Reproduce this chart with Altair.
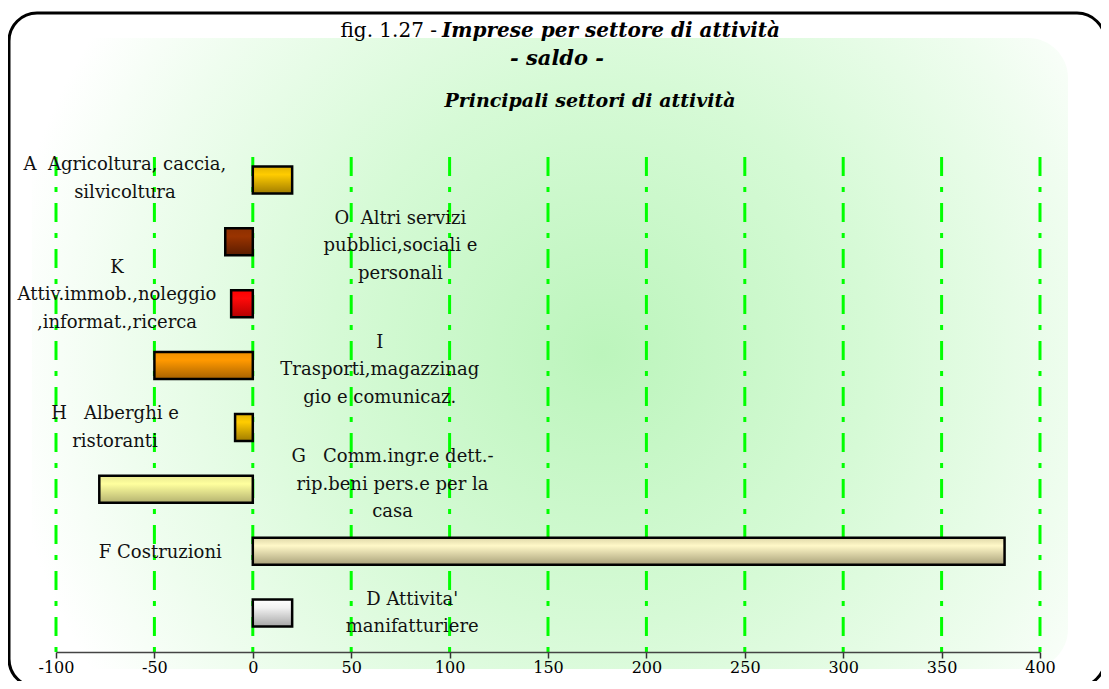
import altair as alt
import pandas as pd

# ---- data ----
codes = ["A", "O", "K", "I", "H", "G", "F", "D"]
NB = "\u00a0"
labels = [
    f"A{NB} Agricoltura, caccia,\nsilvicoltura",
    f"O{NB} Altri servizi\npubblici,sociali e\npersonali",
    "K\nAttiv.immob.,noleggio\n,informat.,ricerca",
    "I\nTrasporti,magazzinag\ngio e comunicaz.",
    f"H{NB}{NB} Alberghi e\nristoranti",
    f"G{NB}{NB} Comm.ingr.e dett.-\nrip.beni pers.e per la\ncasa",
    "F Costruzioni",
    "D Attivita'\nmanifatturiere",
]
values = [20, -14, -11, -50, -9, -78, 382, 20]
ticks = [-100, -50, 0, 50, 100, 150, 200, 250, 300, 350, 400]

# ---- layout / style (not data) ----
label_x = [-65, 75, -69, 64.5, -70, 71, -47, 81]      # label centre, in axis units
label_dy = [-15, -23, -36, -23, -13, -32, 2, -13]      # px shift of first label line
bar_colors = {
    "A": ("#E2B400", "#FFCC00", "#A07C00"),
    "O": ("#8E3000", "#993300", "#5A1C00"),
    "K": ("#FF0000", "#FF0A0A", "#B40000"),
    "I": ("#F09000", "#FF9900", "#A86200"),
    "H": ("#E2B400", "#FFCC00", "#A07C00"),
    "G": ("#E8E890", "#FFFF9E", "#B4B270"),
    "F": ("#DED7A8", "#FFF8C8", "#A9A17A"),
    "D": ("#FFFFFF", "#F2F2F2", "#A6A6A6"),
}
FONT = "DejaVu Serif"
STEP = 61.857
ydom = [-23 / STEP, 7 + 39 / STEP]

df = pd.DataFrame({"code": codes, "label": labels, "value": values,
                   "idx": list(range(len(codes))), "lx": label_x, "ldy": label_dy})
df["zero"] = 0
df["y0"] = df["idx"] - 13.5 / STEP
df["y1"] = df["idx"] + 13.5 / STEP
df["ly"] = df["idx"] + df["ldy"] / STEP

xscale = alt.Scale(domain=[-100, 400], nice=False, zero=False)
yscale = alt.Scale(domain=ydom, reverse=True, nice=False, zero=False)
one = alt.Data(values=[{}])

def grad(c):
    return {"gradient": "linear", "x1": 0, "y1": 0, "x2": 0, "y2": 1,
            "stops": [{"offset": 0, "color": c[0]},
                      {"offset": 0.3, "color": c[1]},
                      {"offset": 1, "color": c[2]}]}

frame = alt.Chart(one).mark_rect(
    fill="white", stroke="black", strokeWidth=3, cornerRadius=28
).encode(x=alt.value(-47), x2=alt.value(1049), y=alt.value(-144), y2=alt.value(530))

bg = alt.Chart(one).mark_rect(
    cornerRadius=40,
    fill={"gradient": "radial", "x1": 0.55, "y1": 0.5, "x2": 0.55, "y2": 0.5,
          "r1": 0, "r2": 0.58,
          "stops": [{"offset": 0, "color": "#BCF5BC"},
                    {"offset": 0.45, "color": "#D6FAD6"},
                    {"offset": 0.8, "color": "#EFFDEF"},
                    {"offset": 1, "color": "#FFFFFF"}]}
).encode(x=alt.value(-24), x2=alt.value(1012), y=alt.value(-119), y2=alt.value(512))

grid = alt.Chart(pd.DataFrame({"t": ticks})).mark_rule(
    color="#00FF00", strokeWidth=3, strokeDash=[19, 11, 5, 11]
).encode(
    x=alt.X("t:Q", scale=xscale,
            axis=alt.Axis(values=ticks, title=None, grid=False, labelFont=FONT,
                          labelFontSize=16, labelColor="black", tickColor="#333",
                          tickSize=6, tickWidth=1.5, domainColor="#444",
                          domainWidth=1.5, labelPadding=1, labelFlush=False,
                          labelExpr="datum.value < 0 ? '-' + abs(datum.value) : '' + datum.value",
                          zindex=1)),
    y=alt.value(0), y2=alt.value(495),
)

bars = []
for c in codes:
    bars.append(
        alt.Chart(df).transform_filter(alt.datum.code == c).mark_rect(
            fill=grad(bar_colors[c]), stroke="black", strokeWidth=2.5
        ).encode(
            x=alt.X("zero:Q", scale=xscale), x2="value:Q",
            y=alt.Y("y0:Q", scale=yscale, axis=None), y2="y1:Q",
        )
    )

text = alt.Chart(df).mark_text(
    font=FONT, fontSize=18, color="#111", align="center", baseline="middle",
    lineBreak="\n", lineHeight=27.5
).encode(
    x=alt.X("lx:Q", scale=xscale),
    y=alt.Y("ly:Q", scale=yscale, axis=None),
    text="label:N",
)

def title_txt(s, x, y, align, style="normal", weight="normal", size=20):
    return alt.Chart(one).mark_text(
        text=s, font=FONT, fontSize=size, fontStyle=style, fontWeight=weight,
        align=align, baseline="middle", color="black"
    ).encode(x=alt.value(x), y=alt.value(y))

titles = [
    title_txt("fig. 1.27 -", 381, -126, "right"),
    title_txt("Imprese per settore di attività", 386, -126, "left", "italic", "bold"),
    title_txt("- saldo -", 501, -98, "center", "italic", "bold", 21),
    title_txt("Principali settori di attività", 534, -56, "center", "italic", "bold", 19),
]

chart = alt.layer(frame, bg, grid, *bars, text, *titles).properties(
    width=984, height=495,
    autosize=alt.AutoSizeParams(type="none"),
    padding={"left": 48, "top": 149, "right": 61, "bottom": 29},
).configure_view(stroke=None)

chart.save("out.html", embed_options={"renderer": "svg", "actions": False})
